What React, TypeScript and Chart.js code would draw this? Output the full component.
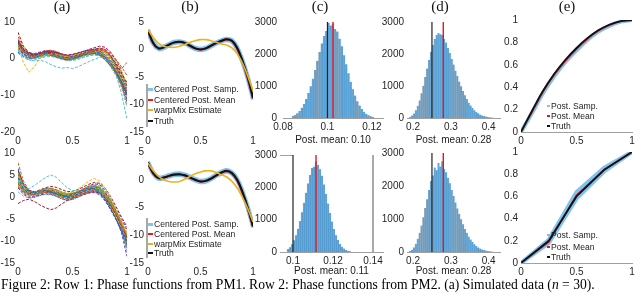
import React, { useEffect, useRef } from 'react';
import { Chart, registerables } from 'chart.js';
Chart.register(...registerables);

const FONT = "'Liberation Sans', Arial, Helvetica, sans-serif";
const SERIF = "'Liberation Serif', 'Times New Roman', serif";
const TICK = '#262626';
const MATLAB = ['#0072BD', '#D95319', '#EDB120', '#7E2F8E', '#77AC30', '#4DBEEE', '#A2142F'];
const BAND = '#7dc4ef';
const RED = '#e8161d';
const BLACK = '#111111';
const ORANGE = '#EDB120';
const HIST_FILL = '#5aa3d8';

// ---------- shared grids / ticks ----------
const X_GRID = [0, 0.05, 0.1, 0.15, 0.2, 0.25, 0.3, 0.35, 0.4, 0.45, 0.5, 0.55, 0.6, 0.65, 0.7, 0.75, 0.8, 0.85, 0.9, 0.95, 1];
const UNIT_TICKS = [0, 0.5, 1];
const A1_YTICKS = [-20, -10, 0, 10];
const A2_YTICKS = [-15, -10, -5, 0, 5, 10];
const B_YTICKS = [-15, -10, -5, 0, 5];
const COUNT_TICKS = [0, 1000, 2000, 3000];
const C1_XTICKS = [0.08, 0.1, 0.12];
const C2_XTICKS = [0.1, 0.12, 0.14];
const D_XTICKS = [0.2, 0.3, 0.4];
const E_YTICKS = [0, 0.2, 0.4, 0.6, 0.8, 1];

// ---------- (a) simulated data, row 1 ----------
const A1_CURVES = [
  [4.2, 2.0, 1.1, 0.8, 1.3, 1.6, 1.4, 0.9, 0.5, 0.3, 0.6, 1.0, 1.5, 1.9, 2.0, 1.6, 0.4, -1.2, -3.5, -6.4, -9.8],
  [2.8, 1.2, 0.3, 0.6, 1.1, 1.5, 1.2, 0.7, 0.1, -0.1, 0.3, 0.8, 1.2, 1.6, 1.8, 1.3, 0.2, -1.5, -3.8, -6.8, -10.5],
  [3.2, -1.0, -3.7, -2.2, 0.1, 1.0, 1.3, 1.1, 0.8, 0.6, 0.9, 1.3, 1.7, 2.0, 2.1, 1.7, 0.9, -0.6, -2.9, -5.6, -8.6],
  [5.1, 2.6, 1.5, 1.2, 1.6, 2.0, 2.2, 1.8, 1.3, 1.0, 1.2, 1.6, 2.0, 2.4, 2.6, 2.9, 2.5, 0.9, -1.8, -5.0, -8.9],
  [3.5, 1.6, 0.6, 0.2, 0.5, 0.9, 1.1, 0.8, 0.4, 0.0, -0.2, 0.2, 0.7, 1.3, 1.7, 1.9, 1.4, 0.1, -2.0, -4.9, -8.0],
  [2.4, 0.8, -0.3, -0.6, -0.4, -0.8, -1.6, -2.2, -2.6, -2.4, -2.7, -2.2, -1.5, -0.8, -0.2, 0.4, 0.2, -1.5, -4.5, -9.5, -16.5],
  [4.6, 2.4, 1.4, 1.0, 1.4, 1.8, 1.6, 1.2, 0.8, 0.7, 1.0, 1.4, 1.8, 2.0, 2.3, 2.0, 1.0, -0.5, -2.6, -5.4, -9.1],
  [1.8, 0.6, 0.0, 0.3, 0.7, 1.2, 1.0, 0.5, 0.1, -0.3, -0.1, 0.5, 1.0, 1.3, 1.4, 1.0, -0.2, -1.8, -3.9, -6.6, -10.0],
  [3.9, 1.9, 1.0, 0.9, 1.5, 2.1, 2.3, 2.0, 1.4, 0.8, 0.7, 1.1, 1.6, 2.1, 2.5, 2.6, 2.0, 0.4, -2.1, -5.3, -8.7],
  [5.6, 2.9, 1.3, 0.7, 0.9, 1.3, 1.5, 1.2, 0.9, 0.5, 0.4, 0.8, 1.3, 1.7, 1.9, 2.2, 1.8, 1.0, -0.6, -3.4, -7.2],
  [3.0, 1.3, 0.5, 0.3, 0.9, 1.4, 1.8, 1.6, 1.1, 0.6, 0.3, 0.5, 1.0, 1.4, 1.8, 1.5, 0.3, -1.4, -3.6, -6.5, -11.2],
  [4.0, 2.2, 1.2, 1.1, 1.4, 1.7, 1.5, 1.0, 0.4, 0.1, 0.4, 0.9, 1.5, 1.9, 2.1, 1.7, 0.6, -0.9, -3.1, -6.0, -9.5],
  [2.2, 0.9, 0.2, 0.0, 0.2, 0.6, 0.8, 0.6, 0.2, -0.3, -0.5, -0.2, 0.3, 0.8, 1.2, 1.3, 0.8, -0.6, -2.7, -5.5, -8.3],
  [7.2, 3.4, 1.7, 1.2, 1.5, 1.9, 2.1, 1.8, 1.2, 0.9, 1.1, 1.5, 2.0, 2.5, 3.0, 3.4, 3.1, 1.8, -0.4, -3.5, -7.4],
  [3.3, 1.5, 0.7, 0.5, 0.9, 1.1, 0.9, 0.5, 0.0, -0.4, -0.2, 0.3, 0.9, 1.3, 1.4, 0.9, -0.3, -2.0, -4.2, -7.2, -11.8],
  [4.4, 2.1, 0.9, 0.6, 1.1, 1.6, 1.9, 1.7, 1.1, 0.5, 0.2, 0.5, 1.1, 1.6, 2.0, 2.3, 2.1, 1.2, -0.3, -2.2, -4.6],
  [2.6, 1.0, 0.4, 0.5, 0.8, 1.0, 0.7, 0.3, -0.1, -0.4, -0.3, 0.2, 0.6, 0.9, 1.1, 0.8, -0.4, -2.3, -4.8, -8.0, -12.5],
  [5.3, 2.7, 1.6, 1.4, 1.8, 2.2, 2.0, 1.5, 1.0, 0.8, 1.0, 1.5, 2.0, 2.3, 2.4, 2.0, 0.9, -0.8, -3.0, -6.0, -9.8],
  [3.7, 1.7, 0.8, 0.6, 1.0, 1.3, 1.3, 1.0, 0.6, 0.2, 0.1, 0.5, 1.0, 1.5, 1.9, 2.1, 1.6, 0.2, -1.8, -4.4, -7.6],
  [1.5, 0.3, -0.4, -0.3, 0.1, 0.5, 0.6, 0.3, -0.2, -0.6, -0.5, 0.0, 0.4, 0.8, 1.0, 0.7, -0.3, -2.0, -4.3, -7.1, -10.8],
  [4.8, 2.5, 1.3, 0.9, 1.2, 1.6, 1.7, 1.3, 0.8, 0.4, 0.5, 0.9, 1.5, 2.0, 2.4, 2.5, 2.0, 0.6, -1.4, -4.1, -7.0],
  [3.1, 1.4, 0.6, 0.7, 1.2, 1.7, 1.6, 1.1, 0.5, 0.1, 0.2, 0.7, 1.2, 1.7, 1.9, 1.4, 0.2, -1.6, -4.0, -7.4, -13.0],
  [6.0, 3.1, 1.5, 0.9, 1.1, 1.5, 1.8, 1.6, 1.1, 0.7, 0.6, 1.0, 1.6, 2.1, 2.5, 2.8, 2.6, 1.5, -0.5, -2.8, -1.0],
  [2.0, 0.7, 0.1, 0.2, 0.6, 1.0, 1.1, 0.8, 0.3, -0.1, -0.2, 0.2, 0.7, 1.1, 1.3, 1.1, 0.1, -1.5, -3.6, -6.2, -9.3],
  [4.3, 2.0, 1.0, 0.8, 1.2, 1.5, 1.3, 0.8, 0.3, 0.0, 0.2, 0.7, 1.3, 1.8, 2.1, 1.9, 1.1, -0.4, -2.5, -5.1, -8.2],
  [3.6, 1.8, 0.9, 0.7, 0.9, 1.2, 1.2, 0.9, 0.5, 0.3, 0.4, 0.8, 1.2, 1.5, 1.7, 1.5, 0.7, -0.9, -3.2, -6.1, -9.6],
  [5.0, 2.3, 1.1, 0.6, 0.8, 1.1, 1.4, 1.3, 1.0, 0.6, 0.5, 0.7, 1.1, 1.5, 1.8, 2.0, 1.7, 0.5, -1.5, -4.2, -7.7],
  [2.9, 1.1, 0.2, 0.1, 0.5, 1.0, 1.3, 1.1, 0.6, 0.1, -0.1, 0.3, 0.8, 1.2, 1.5, 1.2, 0.2, -1.4, -3.7, -6.6, -10.2],
  [4.1, 2.0, 1.0, 0.9, 1.3, 1.8, 2.0, 1.7, 1.2, 0.8, 0.8, 1.2, 1.7, 2.2, 2.6, 2.7, 2.2, 0.8, -1.2, -3.9, -6.5],
  [3.4, 1.5, 0.5, 0.3, 0.7, 1.0, 0.9, 0.6, 0.2, -0.2, 0.0, 0.5, 1.0, 1.4, 1.6, 1.3, 0.3, -1.3, -3.5, -6.3, -9.9],
];

// ---------- (a) simulated data, row 2 ----------
const A2_CURVES = [
  [6.5, 2.8, 1.2, 0.9, 1.3, 1.5, 1.2, 0.7, 0.3, 0.2, 0.5, 1.0, 1.6, 2.0, 1.8, 0.9, -0.8, -2.9, -5.2, -7.6, -10.0],
  [3.2, 1.3, 0.5, 0.6, 0.9, 1.0, 0.8, 0.3, -0.2, -0.5, -0.3, 0.2, 0.8, 1.3, 1.5, 1.0, -0.3, -2.1, -4.2, -6.5, -9.0],
  [4.8, 2.3, 1.0, 0.8, 1.2, 1.6, 1.7, 1.5, 1.1, 0.8, 1.1, 1.8, 2.7, 3.6, 4.2, 3.6, 2.0, -0.3, -2.8, -5.5, -8.2],
  [2.1, 0.6, -0.1, 0.0, 0.4, 0.7, 0.6, 0.2, -0.4, -0.7, -0.5, 0.0, 0.5, 0.9, 1.0, 0.5, -0.9, -2.8, -5.0, -7.6, -11.0],
  [5.4, 2.5, 1.3, 1.1, 1.5, 1.9, 2.0, 1.6, 1.0, 0.6, 0.8, 1.3, 1.9, 2.4, 2.6, 2.1, 0.7, -1.2, -3.4, -6.0, -8.6],
  [3.9, 2.2, 1.9, 2.6, 3.5, 4.4, 5.0, 4.5, 3.3, 2.1, 1.5, 1.4, 1.8, 2.3, 2.7, 2.5, 1.4, -0.5, -2.8, -5.6, -12.5],
  [-1.5, -0.8, -0.5, -1.0, -1.8, -2.4, -2.9, -2.5, -1.6, -0.8, -0.3, 0.2, 0.7, 1.0, 1.2, 0.9, -0.2, -2.0, -4.1, -6.6, -9.3],
  [4.2, 1.8, 0.8, 0.6, 1.0, 1.3, 1.2, 0.8, 0.3, -0.1, 0.0, 0.6, 1.2, 1.7, 1.9, 1.4, 0.0, -1.9, -4.1, -6.8, -10.3],
  [7.8, 3.6, 1.6, 1.0, 1.2, 1.6, 1.8, 1.5, 1.0, 0.6, 0.7, 1.1, 1.7, 2.2, 2.4, 2.0, 0.8, -1.0, -3.2, -5.8, -8.8],
  [2.7, 1.0, 0.3, 0.4, 0.8, 1.2, 1.2, 0.8, 0.2, -0.2, -0.1, 0.4, 1.0, 1.5, 1.7, 1.3, -0.1, -2.2, -4.6, -7.5, -11.6],
  [5.0, 2.4, 1.2, 1.0, 1.4, 1.8, 1.9, 1.6, 1.1, 0.7, 0.8, 1.2, 1.8, 2.5, 3.0, 2.8, 1.6, -0.4, -2.7, -5.1, -7.4],
  [3.5, 1.5, 0.6, 0.5, 0.9, 1.3, 1.4, 1.1, 0.6, 0.2, 0.3, 0.8, 1.4, 1.9, 2.1, 1.7, 0.4, -1.5, -3.7, -6.3, -9.5],
  [1.2, 0.2, -0.3, -0.1, 0.3, 0.6, 0.5, 0.1, -0.4, -0.8, -0.6, -0.1, 0.5, 1.0, 1.2, 0.8, -0.4, -2.4, -4.7, -7.3, -10.6],
  [6.0, 3.0, 1.5, 1.2, 1.6, 2.1, 2.4, 2.2, 1.7, 1.2, 1.3, 1.7, 2.3, 2.9, 3.3, 3.1, 2.0, 0.1, -2.2, -4.6, -6.8],
  [4.5, 2.0, 0.9, 0.7, 1.1, 1.4, 1.3, 0.9, 0.4, 0.0, 0.1, 0.6, 1.2, 1.6, 1.8, 1.2, -0.3, -2.4, -4.8, -7.6, -11.8],
  [3.0, 1.4, 0.7, 0.8, 1.2, 1.5, 1.4, 1.0, 0.5, 0.1, 0.2, 0.7, 1.3, 1.8, 2.0, 1.6, 0.3, -1.6, -3.8, -6.2, -8.9],
  [5.8, 2.7, 1.3, 1.0, 1.3, 1.7, 1.8, 1.4, 0.9, 0.5, 0.5, 0.9, 1.5, 2.0, 2.2, 1.8, 0.5, -1.4, -3.7, -6.4, -9.7],
  [2.4, 0.9, 0.2, 0.2, 0.6, 1.0, 1.1, 0.8, 0.3, -0.1, -0.2, 0.3, 0.9, 1.4, 1.6, 1.1, -0.4, -2.5, -5.0, -8.1, -13.5],
  [4.0, 1.9, 0.9, 0.8, 1.3, 1.8, 2.0, 1.7, 1.2, 0.8, 0.9, 1.3, 1.9, 2.4, 2.7, 2.4, 1.2, -0.7, -3.0, -5.4, -7.9],
  [3.7, 1.6, 0.7, 0.6, 1.0, 1.3, 1.2, 0.8, 0.3, 0.0, 0.2, 0.7, 1.3, 1.7, 1.8, 1.3, 0.0, -1.8, -4.0, -6.6, -9.8],
  [5.2, 2.4, 1.1, 0.9, 1.3, 1.6, 1.6, 1.2, 0.7, 0.4, 0.6, 1.1, 1.7, 2.2, 2.5, 2.2, 1.0, -0.9, -3.2, -5.9, -9.1],
  [2.9, 1.2, 0.4, 0.3, 0.7, 1.1, 1.0, 0.6, 0.0, -0.4, -0.3, 0.3, 0.9, 1.3, 1.4, 0.9, -0.5, -2.5, -4.9, -7.9, -12.0],
  [4.6, 2.1, 1.0, 0.8, 1.1, 1.4, 1.4, 1.0, 0.5, 0.1, 0.3, 0.8, 1.4, 1.9, 2.1, 1.6, 0.2, -1.7, -3.9, -6.4, -9.2],
  [3.3, 1.4, 0.6, 0.5, 0.9, 1.2, 1.3, 1.0, 0.5, 0.2, 0.3, 0.7, 1.3, 1.8, 2.0, 1.7, 0.6, -1.2, -3.4, -5.8, -8.4],
  [6.2, 2.9, 1.4, 1.1, 1.4, 1.8, 1.9, 1.6, 1.0, 0.6, 0.7, 1.2, 1.8, 2.3, 2.5, 2.0, 0.6, -1.4, -3.8, -6.6, -10.1],
  [2.5, 1.0, 0.4, 0.5, 0.8, 1.0, 0.9, 0.5, 0.0, -0.3, -0.2, 0.3, 0.8, 1.2, 1.3, 0.8, -0.6, -2.6, -4.9, -7.4, -10.4],
  [4.4, 2.1, 1.1, 1.0, 1.4, 1.8, 1.8, 1.4, 0.8, 0.4, 0.5, 1.0, 1.6, 2.1, 2.3, 1.9, 0.6, -1.3, -3.5, -6.0, -8.8],
  [3.8, 1.7, 0.8, 0.7, 1.1, 1.5, 1.5, 1.1, 0.6, 0.2, 0.3, 0.8, 1.4, 1.9, 2.2, 1.9, 0.8, -1.0, -3.3, -6.2, -9.9],
  [5.5, 2.6, 1.3, 1.0, 1.3, 1.6, 1.6, 1.2, 0.7, 0.3, 0.4, 0.9, 1.5, 2.0, 2.3, 1.9, 0.6, -1.3, -3.6, -6.1, -9.0],
  [3.1, 1.3, 0.5, 0.4, 0.8, 1.1, 1.1, 0.8, 0.3, -0.1, 0.0, 0.5, 1.1, 1.6, 1.9, 1.5, 0.3, -1.5, -3.9, -6.8, -10.7],
];

// ---------- (b) phase functions ----------
const B1_TRUTH = [3.5, 1.2, 0.2, 0.4, 0.9, 1.3, 1.4, 1.2, 0.7, 0.2, 0.0, 0.2, 0.7, 1.2, 1.6, 1.85, 1.6, 0.3, -2.0, -5.0, -8.8];
const B1_MEAN = [3.3, 1.1, 0.2, 0.4, 0.85, 1.25, 1.35, 1.15, 0.65, 0.2, 0.0, 0.2, 0.65, 1.15, 1.55, 1.8, 1.5, 0.1, -2.3, -5.3, -8.9];
const B1_SAMP_A = [3.6, 1.3, 0.35, 0.55, 1.0, 1.4, 1.5, 1.3, 0.8, 0.35, 0.15, 0.35, 0.8, 1.3, 1.7, 1.95, 1.7, 0.4, -1.9, -4.9, -8.6];
const B1_SAMP_B = [3.2, 1.0, 0.05, 0.25, 0.75, 1.15, 1.25, 1.05, 0.55, 0.05, -0.15, 0.05, 0.55, 1.05, 1.45, 1.7, 1.4, 0.0, -2.4, -5.4, -9.1];
const B1_WARPMIX = [3.6, 2.2, 1.1, 0.6, 0.4, 0.4, 0.6, 0.9, 1.3, 1.6, 1.8, 1.8, 1.6, 1.3, 1.0, 0.8, 0.3, -0.8, -2.5, -4.8, -7.6];

const B2_TRUTH = [3.1, 1.2, 0.3, 0.4, 0.7, 0.95, 1.0, 0.8, 0.4, 0.0, -0.3, -0.2, 0.2, 0.8, 1.3, 1.6, 1.2, 0.0, -2.2, -5.0, -8.4];
const B2_MEAN = [2.9, 1.1, 0.3, 0.4, 0.65, 0.9, 0.95, 0.75, 0.35, -0.05, -0.3, -0.2, 0.2, 0.75, 1.25, 1.55, 1.1, -0.2, -2.4, -5.2, -8.5];
const B2_SAMP_A = [3.25, 1.35, 0.45, 0.55, 0.85, 1.1, 1.15, 0.95, 0.55, 0.15, -0.15, -0.05, 0.35, 0.95, 1.45, 1.75, 1.35, 0.15, -2.05, -4.85, -8.25];
const B2_SAMP_B = [2.95, 1.05, 0.15, 0.25, 0.55, 0.8, 0.85, 0.65, 0.25, -0.15, -0.45, -0.35, 0.05, 0.65, 1.15, 1.45, 1.05, -0.15, -2.35, -5.15, -8.55];
const B2_WARPMIX = [3.0, 1.6, 0.6, 0.0, -0.3, -0.4, -0.3, 0.1, 0.6, 1.1, 1.4, 1.6, 1.6, 1.3, 0.9, 0.5, -0.3, -1.5, -3.2, -5.2, -7.6];

// ---------- (c) histograms ----------
const C1_BINS = [0.0845, 0.0855, 0.0865, 0.0875, 0.0885, 0.0895, 0.0905, 0.0915, 0.0925, 0.0935, 0.0945, 0.0955, 0.0965, 0.0975, 0.0985, 0.0995, 0.1005, 0.1015, 0.1025, 0.1035, 0.1045, 0.1055, 0.1065, 0.1075, 0.1085, 0.1095, 0.1105, 0.1115, 0.1125, 0.1135, 0.1145, 0.1155, 0.1165, 0.1175, 0.1185, 0.1195, 0.1205];
const C1_COUNTS = [60, 95, 150, 220, 320, 440, 590, 780, 990, 1230, 1500, 1790, 2060, 2330, 2560, 2720, 2980, 2890, 2950, 2780, 2700, 2480, 2240, 1960, 1680, 1400, 1130, 900, 700, 520, 390, 280, 195, 130, 85, 55, 35];
const C1_TRUTH = 0.1;
const C1_POSTMEAN = 0.1025;

const C2_BINS = [0.0975, 0.0985, 0.0995, 0.1005, 0.1015, 0.1025, 0.1035, 0.1045, 0.1055, 0.1065, 0.1075, 0.1085, 0.1095, 0.1105, 0.1115, 0.1125, 0.1135, 0.1145, 0.1155, 0.1165, 0.1175, 0.1185, 0.1195, 0.1205, 0.1215, 0.1225, 0.1235, 0.1245, 0.1255, 0.1265, 0.1275, 0.1285];
const C2_COUNTS = [90, 150, 240, 360, 520, 720, 960, 1230, 1520, 1830, 2120, 2380, 2600, 2640, 2800, 2690, 2560, 2360, 2090, 1800, 1500, 1210, 940, 710, 520, 370, 250, 165, 105, 65, 40, 22];
const C2_TRUTH = 0.1;
const C2_POSTMEAN = 0.1115;
const C2_FRAME_X = [0.0935, 0.1, 0.14];

// ---------- (d) histograms ----------
const D_BINS = [0.1925, 0.1975, 0.2025, 0.2075, 0.2125, 0.2175, 0.2225, 0.2275, 0.2325, 0.2375, 0.2425, 0.2475, 0.2525, 0.2575, 0.2625, 0.2675, 0.2725, 0.2775, 0.2825, 0.2875, 0.2925, 0.2975, 0.3025, 0.3075, 0.3125, 0.3175, 0.3225, 0.3275, 0.3325, 0.3375, 0.3425, 0.3475, 0.3525, 0.3575, 0.3625, 0.3675, 0.3725, 0.3775, 0.3825, 0.3875, 0.3925, 0.3975, 0.4025, 0.4075, 0.4125];
const D1_COUNTS = [35, 75, 140, 240, 380, 550, 770, 1010, 1280, 1550, 1820, 2070, 2290, 2470, 2590, 2660, 2620, 2600, 2470, 2360, 2190, 2030, 1840, 1670, 1480, 1310, 1140, 990, 840, 710, 590, 480, 390, 310, 245, 190, 145, 110, 82, 60, 44, 32, 22, 15, 10];
const D2_COUNTS = [30, 70, 140, 250, 400, 580, 800, 1050, 1330, 1600, 1880, 2150, 2320, 2560, 2480, 2700, 2590, 2750, 2520, 2420, 2250, 2080, 1880, 1700, 1500, 1320, 1150, 990, 840, 700, 580, 470, 380, 300, 235, 180, 138, 104, 78, 57, 42, 30, 21, 14, 9];
const D_TRUTH = 0.25;
const D_POSTMEAN = 0.28;
const LINE_TOP = 3000;

// ---------- (e) warping functions ----------
const E1_X = [0, 0.1, 0.2, 0.3, 0.4, 0.5, 0.6, 0.7, 0.8, 0.9, 1];
const E1_TRUTH = [0, 0.19, 0.37, 0.52, 0.645, 0.75, 0.84, 0.91, 0.96, 0.99, 1];
const E1_MEAN = [0, 0.18, 0.36, 0.51, 0.635, 0.74, 0.832, 0.905, 0.955, 0.988, 1];
const E1_SAMP = [0, 0.172, 0.35, 0.5, 0.625, 0.73, 0.824, 0.898, 0.95, 0.985, 1];
const E2_X = [0, 0.25, 0.5, 0.75, 1];
const E2_TRUTH = [0, 0.2, 0.6, 0.84, 1];
const E2_MEAN = [0, 0.19, 0.61, 0.84, 1];
const E2_SAMP_A = [0, 0.21, 0.64, 0.86, 1];
const E2_SAMP_B = [0, 0.18, 0.58, 0.825, 1];

// ---------- helpers ----------
const pts = (xs: number[], ys: number[]) => ys.map((y, i) => ({ x: xs[i], y }));

function lineDs(label: string, data: any[], color: string, width: number, extra: any = {}) {
  return {
    type: 'line', label, data, borderColor: color, backgroundColor: color, borderWidth: width,
    pointRadius: 0, fill: false, tension: 0, ...extra,
  };
}

type Area = { l: number; t: number; r: number; b: number };
type AxisSpec = { min: number; max: number; ticks: number[]; pad?: number; border?: boolean; title?: string };

const PAD_T = 10;
const PAD_R = 14;

function makeX(s: AxisSpec, xH: number) {
  return {
    type: 'linear', min: s.min, max: s.max, offset: false,
    afterBuildTicks: (ax: any) => { ax.ticks = s.ticks.map((v) => ({ value: v })); },
    afterFit: (ax: any) => { ax.height = xH; },
    grid: { display: false, drawTicks: false, offset: false },
    border: { display: !!s.border, color: '#a0a0a0', width: 1 },
    ticks: { padding: s.pad ?? 3, autoSkip: false, maxRotation: 0, color: TICK, font: { family: FONT, size: 10 }, callback: (v: any) => String(v) },
    title: s.title
      ? { display: true, text: s.title, color: '#1a1a1a', font: { family: FONT, size: 10 }, padding: 0 }
      : { display: false },
  };
}

function makeY(s: AxisSpec, yW: number) {
  return {
    type: 'linear', min: s.min, max: s.max,
    afterBuildTicks: (ax: any) => { ax.ticks = s.ticks.map((v) => ({ value: v })); },
    afterFit: (ax: any) => { ax.width = yW; },
    grid: { display: false, drawTicks: false },
    border: { display: false },
    ticks: { padding: s.pad ?? 3, autoSkip: false, color: TICK, font: { family: FONT, size: 10 }, callback: (v: any) => String(v) },
  };
}

function ChartPanel(props: { area: Area; xH: number; yW: number; type: string; datasets: any[]; x: AxisSpec; y: AxisSpec }) {
  const { area, xH, yW } = props;
  const ref = useRef<HTMLCanvasElement>(null);
  const width = area.r - area.l + yW + PAD_R;
  const height = area.b - area.t + PAD_T + xH;
  useEffect(() => {
    const chart = new Chart(ref.current as HTMLCanvasElement, {
      type: props.type as any,
      data: { datasets: props.datasets },
      options: {
        animation: false,
        responsive: false,
        events: [],
        layout: { padding: { top: PAD_T, right: PAD_R, left: 0, bottom: 0 } },
        plugins: { legend: { display: false }, tooltip: { enabled: false } },
        scales: { x: makeX(props.x, xH), y: makeY(props.y, yW) } as any,
      },
    } as any);
    return () => chart.destroy();
  }, []);
  return (
    <canvas
      ref={ref}
      width={width}
      height={height}
      style={{ position: 'absolute', left: area.l - yW, top: area.t - PAD_T, width, height }}
    />
  );
}

function dataCurves(curves: number[][]) {
  return curves.map((c, i) =>
    lineDs('curve ' + (i + 1), pts(X_GRID, c), MATLAB[i % MATLAB.length], 1, { borderDash: [3, 1.5] })
  );
}

function phaseSets(truth: number[], mean: number[], sa: number[], sb: number[], warp: number[]) {
  return [
    lineDs('warpMix Estimate', pts(X_GRID, warp), ORANGE, 1.6, { tension: 0.4, order: 0 }),
    lineDs('Truth', pts(X_GRID, truth), BLACK, 2, { tension: 0.4, order: 1 }),
    lineDs('Centered Post. Mean', pts(X_GRID, mean), RED, 2, { tension: 0.4, order: 2 }),
    lineDs('Centered Post. Samp.', pts(X_GRID, sa), BAND, 4, { tension: 0.4, order: 3 }),
    lineDs('Centered Post. Samp. ', pts(X_GRID, sb), BAND, 4, { tension: 0.4, order: 4 }),
  ];
}

function histSets(bins: number[], counts: number[], truth: number, mean: number, extra: any[] = []) {
  return [
    lineDs('Post. mean', [{ x: mean, y: 0 }, { x: mean, y: LINE_TOP }], RED, 1.4, { order: 0 }),
    lineDs('Truth', [{ x: truth, y: 0 }, { x: truth, y: LINE_TOP }], '#222', 1.2, { order: 1 }),
    ...extra,
    {
      type: 'bar', label: 'Posterior samples', data: pts(bins, counts), order: 10,
      backgroundColor: HIST_FILL, borderColor: 'rgba(20,40,60,0.4)',
      borderWidth: { top: 0, right: 0, bottom: 0, left: 0.6 },
      barPercentage: 1, categoryPercentage: 1, grouped: false,
    },
  ];
}

function warpSets(xs: number[], truth: number[], mean: number[], samples: number[][], tension: number) {
  return [
    lineDs('Truth', pts(xs, truth), BLACK, 1.8, { tension, order: 0 }),
    lineDs('Post. Mean', pts(xs, mean), RED, 1.6, { tension, order: 1 }),
    ...samples.map((s, i) => lineDs('Post. Samp.' + (i ? ' ' + i : ''), pts(xs, s), BAND, 4, { tension, order: 2 + i })),
  ];
}

function Legend(props: { x: number; ys: number[]; items: { label: string; color: string; h: number }[]; sw: number; bar?: [number, number] }) {
  return (
    <>
      {props.bar && (
        <div style={{ position: 'absolute', left: props.x - 2, top: props.bar[0], width: 2, height: props.bar[1] - props.bar[0], background: '#a8a8a8' }} />
      )}
      {props.items.map((it, i) => (
        <div
          key={i}
          style={{
            position: 'absolute', left: props.x, top: props.ys[i] - 6, height: 12, lineHeight: '12px',
            display: 'flex', alignItems: 'center', whiteSpace: 'nowrap', font: `8.6px ${FONT}`, color: '#1e1e1e',
          }}
        >
          <span style={{ display: 'inline-block', width: props.sw, height: it.h, background: it.color, marginRight: 1 }} />
          <span>{it.label}</span>
        </div>
      ))}
    </>
  );
}

const PANEL_TITLES = [
  { text: '(a)', cx: 62 },
  { text: '(b)', cx: 190 },
  { text: '(c)', cx: 320 },
  { text: '(d)', cx: 440 },
  { text: '(e)', cx: 567 },
];

const B_LEGEND = [
  { label: 'Centered Post. Samp.', color: BAND, h: 3 },
  { label: 'Centered Post. Mean', color: RED, h: 2 },
  { label: 'warpMix Estimate', color: ORANGE, h: 2 },
  { label: 'Truth', color: BLACK, h: 2 },
];
const E_LEGEND = [
  { label: 'Post. Samp.', color: BAND, h: 2 },
  { label: 'Post. Mean', color: RED, h: 2 },
  { label: 'Truth', color: BLACK, h: 2 },
];

export default function App() {
  const unitX: AxisSpec = { min: 0, max: 1, ticks: UNIT_TICKS };
  return (
    <div style={{ position: 'absolute', left: 0, top: 0, width: 640, height: 294, overflow: 'hidden', background: '#fff' }}>
      {/* Row 1 */}
      <ChartPanel area={{ l: 18, t: 22, r: 127, b: 132 }} xH={20} yW={30} type="line"
        datasets={dataCurves(A1_CURVES)} x={unitX} y={{ min: -20, max: 10, ticks: A1_YTICKS, pad: 3 }} />
      <ChartPanel area={{ l: 148, t: 22, r: 253, b: 132 }} xH={20} yW={30} type="line"
        datasets={phaseSets(B1_TRUTH, B1_MEAN, B1_SAMP_A, B1_SAMP_B, B1_WARPMIX)} x={unitX} y={{ min: -15, max: 5, ticks: B_YTICKS, pad: 4 }} />
      <ChartPanel area={{ l: 283, t: 20, r: 383, b: 118 }} xH={28} yW={34} type="bar"
        datasets={histSets(C1_BINS, C1_COUNTS, C1_TRUTH, C1_POSTMEAN)}
        x={{ min: 0.08, max: 0.125, ticks: C1_XTICKS, border: true, title: 'Post. mean: 0.10' }}
        y={{ min: 0, max: 3000, ticks: COUNT_TICKS, pad: 6 }} />
      <ChartPanel area={{ l: 407, t: 22, r: 500, b: 118 }} xH={28} yW={34} type="bar"
        datasets={histSets(D_BINS, D1_COUNTS, D_TRUTH, D_POSTMEAN)}
        x={{ min: 0.184, max: 0.43, ticks: D_XTICKS, border: true, title: 'Post. mean: 0.28' }}
        y={{ min: 0, max: 3000, ticks: COUNT_TICKS, pad: 3 }} />
      <ChartPanel area={{ l: 521, t: 20, r: 632, b: 132 }} xH={20} yW={30} type="line"
        datasets={warpSets(E1_X, E1_TRUTH, E1_MEAN, [E1_SAMP], 0.4)}
        x={{ ...unitX, border: true }} y={{ min: 0, max: 1, ticks: E_YTICKS, pad: 3 }} />

      {/* Row 2 */}
      <ChartPanel area={{ l: 18, t: 153, r: 127, b: 263 }} xH={20} yW={30} type="line"
        datasets={dataCurves(A2_CURVES)} x={unitX} y={{ min: -15, max: 10, ticks: A2_YTICKS, pad: 3 }} />
      <ChartPanel area={{ l: 148, t: 152, r: 253, b: 263 }} xH={20} yW={30} type="line"
        datasets={phaseSets(B2_TRUTH, B2_MEAN, B2_SAMP_A, B2_SAMP_B, B2_WARPMIX)} x={unitX} y={{ min: -15, max: 5, ticks: B_YTICKS, pad: 4 }} />
      <ChartPanel area={{ l: 280, t: 155, r: 383, b: 252 }} xH={25} yW={34} type="bar"
        datasets={histSets(C2_BINS, C2_COUNTS, C2_TRUTH, C2_POSTMEAN, [
          lineDs('frame', [{ x: C2_FRAME_X[0], y: LINE_TOP }, { x: C2_FRAME_X[1], y: LINE_TOP }], '#444', 1, { order: 2 }),
          lineDs('frame right', [{ x: C2_FRAME_X[2], y: 0 }, { x: C2_FRAME_X[2], y: LINE_TOP }], '#555', 1, { order: 3 }),
        ])}
        x={{ min: 0.0935, max: 0.145, ticks: C2_XTICKS, border: true, title: 'Post. mean: 0.11' }}
        y={{ min: 0, max: 3000, ticks: COUNT_TICKS, pad: 3 }} />
      <ChartPanel area={{ l: 407, t: 153, r: 500, b: 252 }} xH={25} yW={34} type="bar"
        datasets={histSets(D_BINS, D2_COUNTS, D_TRUTH, D_POSTMEAN)}
        x={{ min: 0.184, max: 0.43, ticks: D_XTICKS, border: true, title: 'Post. mean: 0.28' }}
        y={{ min: 0, max: 3000, ticks: COUNT_TICKS, pad: 3 }} />
      <ChartPanel area={{ l: 521, t: 152, r: 632, b: 263 }} xH={20} yW={30} type="line"
        datasets={warpSets(E2_X, E2_TRUTH, E2_MEAN, [E2_SAMP_A, E2_SAMP_B], 0)}
        x={{ ...unitX, border: true }} y={{ min: 0, max: 1, ticks: E_YTICKS, pad: 3 }} />

      {/* Legends */}
      <Legend x={148} ys={[89, 100, 110, 121]} items={B_LEGEND} sw={5} bar={[84, 127]} />
      <Legend x={148} ys={[224, 234, 243.5, 253]} items={B_LEGEND} sw={5} bar={[218, 258]} />
      <Legend x={547} ys={[106, 116, 126]} items={E_LEGEND} sw={3} />
      <Legend x={547} ys={[235, 246.5, 257]} items={E_LEGEND} sw={3} />

      {/* Panel titles */}
      {PANEL_TITLES.map((t) => (
        <div key={t.text} style={{ position: 'absolute', left: t.cx - 20, top: -1, width: 40, textAlign: 'center', font: `15px ${SERIF}`, lineHeight: '15px', color: '#111' }}>
          {t.text}
        </div>
      ))}

      {/* Caption */}
      <div style={{ position: 'absolute', left: 1, top: 277, whiteSpace: 'nowrap', font: `13.6px ${SERIF}`, lineHeight: '16px', color: '#000' }}>
        Figure 2: Row 1: Phase functions from PM1. Row 2: Phase functions from PM2. (a) Simulated data (<i>n</i> = 30).
      </div>
    </div>
  );
}
